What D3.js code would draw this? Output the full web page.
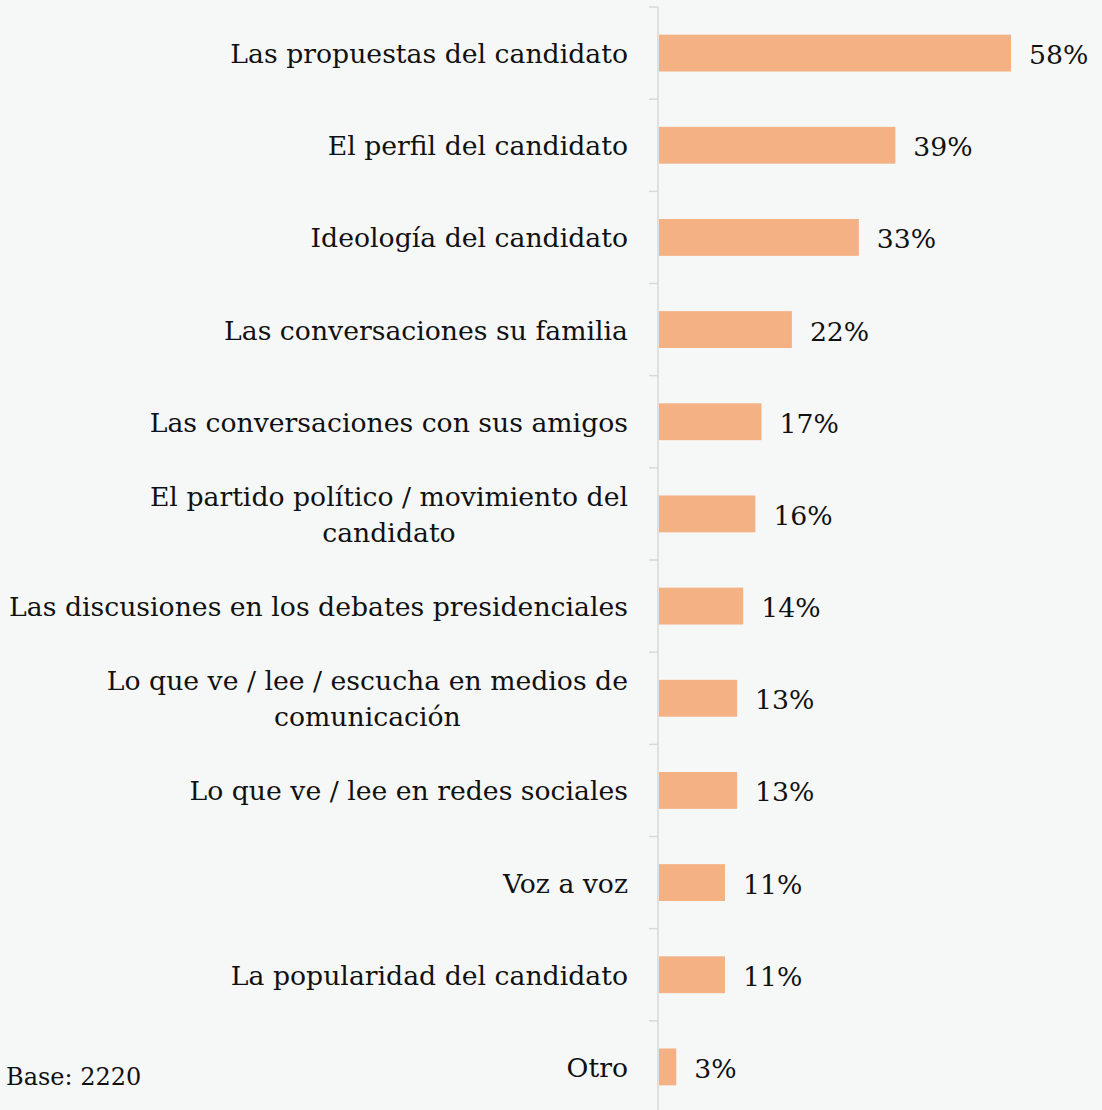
<!DOCTYPE html>
<html>
<head>
<meta charset="utf-8">
<script src="https://cdn.jsdelivr.net/npm/d3@7"></script>
<style>
  html, body { margin: 0; padding: 0; background: #f6f8f8; }
  svg { display: block; }
  text { font-family: "DejaVu Serif", "Liberation Serif", serif; fill: #111; }
</style>
</head>
<body>
<svg id="chart" width="1102" height="1110"></svg>
<script>
// Categories (top to bottom) and their shares in percent; "\n" marks a line break
const categories = [
  "Las propuestas del candidato",
  "El perfil del candidato",
  "Ideología del candidato",
  "Las conversaciones su familia",
  "Las conversaciones con sus amigos",
  "El partido político / movimiento del\ncandidato",
  "Las discusiones en los debates presidenciales",
  "Lo que ve / lee / escucha en medios de\ncomunicación",
  "Lo que ve / lee en redes sociales",
  "Voz a voz",
  "La popularidad del candidato",
  "Otro"
];
const values = [58, 39, 33, 22, 17, 16, 14, 13, 13, 11, 11, 3];
const baseNote = "Base: 2220";

const svg = d3.select("#chart");
const W = 1102, H = 1110;
const axisX = 658;
const fontSize = 26.7;

const x = d3.scaleLinear().domain([0, 58]).range([axisX, 1011]);
const y = d3.scaleBand().domain(categories).range([7, 1113]).paddingInner(0.6).paddingOuter(0.3);

// Bars
svg.append("g").selectAll("rect")
  .data(categories)
  .join("rect")
  .attr("x", x(0) + 1)
  .attr("y", d => y(d))
  .attr("width", (d, i) => x(values[i]) - x(0) - 1)
  .attr("height", y.bandwidth())
  .attr("fill", "#f4b183");

// Vertical axis with ticks between categories
const step = y.step();
const axisG = svg.append("g").attr("stroke", "#d9d9d9").attr("stroke-width", 1.5);
axisG.append("line")
  .attr("x1", axisX).attr("x2", axisX)
  .attr("y1", 7).attr("y2", H);
axisG.selectAll("line.tick")
  .data(d3.range(categories.length))
  .join("line")
  .attr("class", "tick")
  .attr("x1", axisX - 9).attr("x2", axisX)
  .attr("y1", i => 7 + i * step)
  .attr("y2", i => 7 + i * step);

// Category labels, right-aligned; multi-line labels are centred on their widest line
const labelX = axisX - 30;
const labels = svg.append("g").attr("text-anchor", "end").attr("font-size", fontSize);
categories.forEach(cat => {
  const t = labels.append("text").attr("x", labelX);
  const lines = cat.split("\n");
  const cy = y(cat) + y.bandwidth() / 2;
  const lh = 36;
  lines.forEach((ln, k) => {
    t.append("tspan")
      .attr("x", labelX)
      .attr("y", cy + 10 + (k - (lines.length - 1) / 2) * lh)
      .attr("text-anchor", lines.length > 1 ? "middle" : "end")
      .text(ln);
  });
  if (lines.length > 1) {
    let widest = 0;
    t.selectAll("tspan").each(function () { widest = Math.max(widest, this.getComputedTextLength()); });
    t.selectAll("tspan").attr("x", labelX - widest / 2);
  }
});

// Value labels
svg.append("g").attr("font-size", fontSize).selectAll("text")
  .data(categories)
  .join("text")
  .attr("x", (d, i) => x(values[i]) + 18)
  .attr("y", d => y(d) + y.bandwidth() / 2 + 11)
  .text((d, i) => values[i] + "%");

// Base note
svg.append("text")
  .attr("x", 6).attr("y", 1085)
  .attr("font-size", 24)
  .text(baseNote);
</script>
</body>
</html>
